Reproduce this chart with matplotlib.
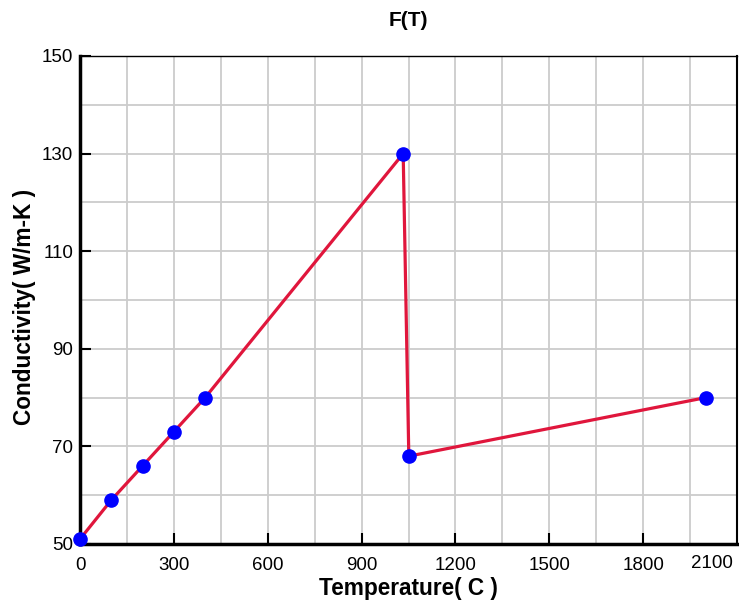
import matplotlib
matplotlib.use("Agg")
import matplotlib.pyplot as plt
import numpy as np

# Thermal conductivity vs temperature
temperature = [0, 100, 200, 300, 400, 1033, 1051, 2000]
conductivity = [51, 59, 66, 73, 80, 130, 68, 80]

x_major = [0, 300, 600, 900, 1200, 1500, 1800]
x_labels = ["0", "300", "600", "900", "1200", "1500", "1800"]
y_major = [50, 70, 90, 110, 130, 150]

plt.rcParams["font.family"] = ["Liberation Sans", "DejaVu Sans"]

W, H = 739, 605
fig = plt.figure(figsize=(W / 100, H / 100), dpi=100)
ax = fig.add_axes([80 / W, (H - 544) / H, (737 - 80) / W, (544 - 56) / H])

ax.set_xlim(0, 2100)
ax.set_ylim(50, 150)

ax.set_xticks(np.arange(0, 2101, 150), minor=True)
ax.set_yticks(np.arange(50, 151, 10), minor=True)
ax.grid(which="both", color="#cccccc", linewidth=1.3, zorder=0)
ax.set_axisbelow(True)

ax.set_xticks(x_major)
ax.set_xticklabels(x_labels)
ax.set_yticks(y_major)
ax.tick_params(axis="x", which="major", direction="in", length=8, width=1.5,
               labelsize=13.5, pad=9, colors="black")
ax.tick_params(axis="y", which="major", direction="in", length=8, width=1.5,
               labelsize=13.5, pad=5, colors="black")
ax.tick_params(which="minor", length=0)

# end label of the x axis
fig.text(712 / W, 1 - 563 / H, "2100", ha="center", va="center",
         fontsize=13.5)

for side, lw in [("left", 2.5), ("bottom", 2.5), ("right", 1.5), ("top", 1.0)]:
    ax.spines[side].set_linewidth(lw)
    ax.spines[side].set_color("black")

ax.plot(temperature, conductivity, color="#e0163c", linewidth=2.3,
        marker="o", markersize=9.5, markerfacecolor="#0000ff",
        markeredgecolor="#0000ff", zorder=3, clip_on=False)

fig.text(408 / W, 1 - 20 / H, "F(T)", fontsize=15, fontweight="bold",
         ha="center", va="center")
fig.text(408 / W, 1 - 588 / H, "Temperature( C )", fontsize=16.3,
         fontweight="bold", ha="center", va="center")
fig.text(25 / W, 1 - 307 / H, "Conductivity( W/m-K )", fontsize=16.3,
         fontweight="bold", ha="center", va="center", rotation=90)

fig.savefig("out.png", dpi=100)
